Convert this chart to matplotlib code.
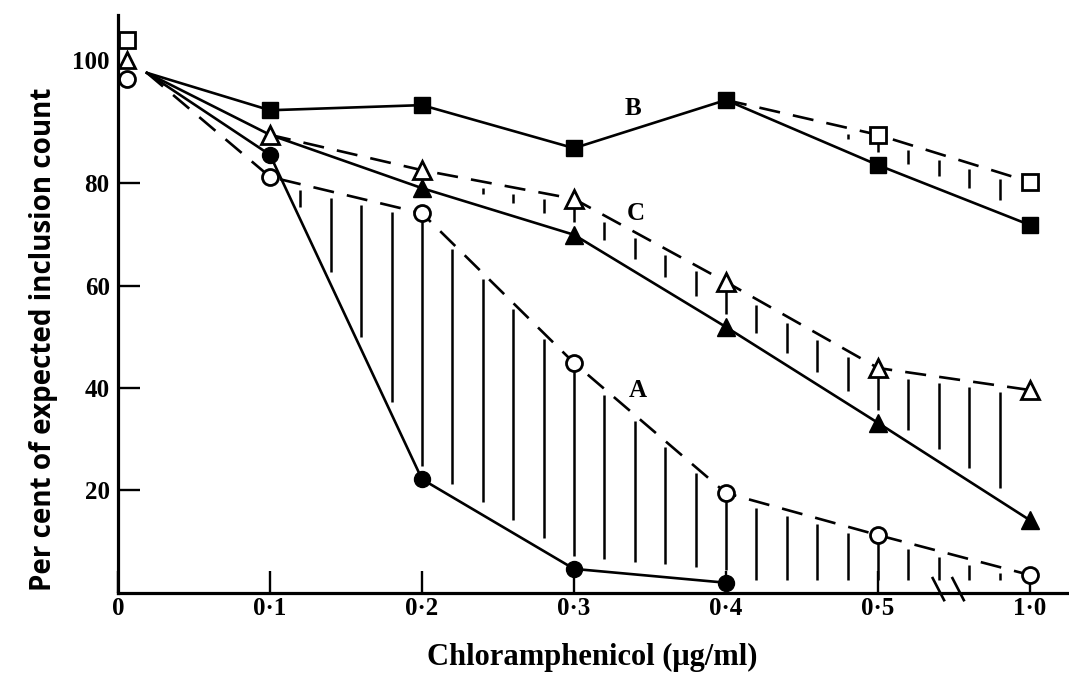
import numpy as np
import matplotlib
matplotlib.use("Agg")
import matplotlib.pyplot as plt

# x positions are evenly spaced categories (axis is broken between 0.5 and 1.0)
conc_labels = ["0", "0·1", "0·2", "0·3", "0·4", "0·5", "1·0"]
conc_pos = np.arange(len(conc_labels))

# common starting point of the curves just right of the axis
start_x = 0.19
start_y = 101.5

# A: filled circles (solid) and open circles (dashed)
a_solid_x = [1, 2, 3, 4]
a_solid_y = [85.5, 22.2, 4.7, 2.0]
a_dash_x = [1, 2, 3, 4, 5, 6]
a_dash_y = [81.2, 74.1, 44.9, 19.5, 11.3, 3.5]

# B: filled squares (solid) and open squares (dashed, leaves solid at 0.4)
b_solid_x = [1, 2, 3, 4, 5, 6]
b_solid_y = [94.2, 95.2, 86.8, 96.2, 83.5, 71.8]
b_dash_x = [4, 5, 6]
b_dash_y = [96.2, 89.4, 80.2]

# C: filled triangles (solid) and open triangles (dashed)
c_solid_x = [1, 2, 3, 4, 5, 6]
c_solid_y = [89.4, 79.0, 69.9, 51.9, 33.2, 14.2]
c_dash_x = [1, 2, 3, 4, 5, 6]
c_dash_y = [89.4, 82.5, 76.9, 60.7, 43.9, 39.6]

# control values plotted at zero concentration
zero_x = 0.06
zero_vals = {"s": 107.9, "^": 104.0, "o": 100.3}

serif = "Liberation Serif"
sans = "Open Sans"

fig = plt.figure(figsize=(10.69, 6.79), dpi=100)
ax = fig.add_axes([0.1104, 0.1267, 0.8896, 0.8513])

lw = 1.9
ms = 13
mew = 2.0
dash = (8, 5)


def hatch(dx, dy, sx, sy, x0, x1):
    # vertical shading strokes between dashed (upper) and solid (lower) curves
    for h in np.arange(x0, x1 + 1e-6, 0.2):
        top = np.interp(h, dx, dy) - 1.2
        bot = np.interp(h, sx, sy, right=0.0) + 2.5
        if top - bot > 0.8:
            ax.plot([h, h], [bot, top], color="black", lw=1.8, solid_capstyle="butt")


hatch(a_dash_x, a_dash_y, a_solid_x, a_solid_y, 1.2, 5.85)
hatch(c_dash_x, c_dash_y, c_solid_x, c_solid_y, 1.8, 5.85)
hatch(b_dash_x, b_dash_y, b_solid_x, b_solid_y, 4.6, 5.85)

# solid curves
ax.plot([start_x] + b_solid_x, [start_y] + b_solid_y, color="black", lw=lw)
ax.plot([start_x] + c_solid_x, [start_y] + c_solid_y, color="black", lw=lw)
ax.plot([start_x] + a_solid_x, [start_y] + a_solid_y, color="black", lw=lw)

# dashed curves
ax.plot([start_x] + a_dash_x, [start_y] + a_dash_y, color="black", lw=lw, dashes=dash)
ax.plot(c_dash_x, c_dash_y, color="black", lw=lw, dashes=dash)
ax.plot(b_dash_x, b_dash_y, color="black", lw=lw, dashes=dash)

# markers
ax.plot(b_solid_x, b_solid_y, "s", color="black", ms=ms - 1.5, zorder=5)
ax.plot(c_solid_x[1:], c_solid_y[1:], "^", color="black", ms=ms, zorder=5)
ax.plot(a_solid_x, a_solid_y, "o", color="black", ms=ms - 1.5, zorder=5)
ax.plot(b_dash_x[1:], b_dash_y[1:], "s", mfc="white", mec="black", mew=mew, ms=ms - 1.5, zorder=6)
ax.plot(c_dash_x, c_dash_y, "^", mfc="white", mec="black", mew=mew, ms=ms, zorder=6)
ax.plot(a_dash_x, a_dash_y, "o", mfc="white", mec="black", mew=mew, ms=ms - 1.5, zorder=6)
for m, v in zero_vals.items():
    ax.plot([zero_x], [v], m, mfc="white", mec="black", mew=mew, ms=ms - 1.5, zorder=6, clip_on=False)

# curve labels
for lab, x, y in [("A", 3.42, 39.6), ("B", 3.39, 94.6), ("C", 3.41, 74.1)]:
    ax.text(x, y, lab, ha="center", va="center", fontsize=18, fontweight="bold", family=serif)

# axis break marks
for bx in [5.36, 5.49]:
    ax.plot([bx, bx + 0.075], [2.9, -1.4], color="black", lw=1.9, clip_on=False)

ax.set_xlim(0, 6.257)
ax.set_ylim(0, 112.8)
for s in ["top", "right"]:
    ax.spines[s].set_visible(False)
for s in ["left", "bottom"]:
    ax.spines[s].set_linewidth(2.3)

ax.set_xticks(conc_pos)
ax.set_xticklabels(conc_labels, fontsize=18, fontweight="bold", family=serif)
ax.set_yticks([20, 40, 60, 80, 104])
ax.set_yticklabels(["20", "40", "60", "80", "100"], fontsize=18, fontweight="bold", family=serif)
ax.tick_params(axis="both", direction="in", length=16, width=1.7)
ax.tick_params(axis="x", pad=3)
ax.tick_params(axis="y", pad=6)
ax.yaxis.get_major_ticks()[-1].tick1line.set_visible(False)

fig.text(0.554, 0.032, "Chloramphenicol (μg/ml)", ha="center", va="center",
         fontsize=22, fontweight="bold", family=serif)
fig.text(0.041, 0.501, "Per cent of expected inclusion count", ha="center", va="center",
         rotation=90, fontsize=20, fontweight="bold", family=sans)

fig.savefig("out.png", dpi=100)
